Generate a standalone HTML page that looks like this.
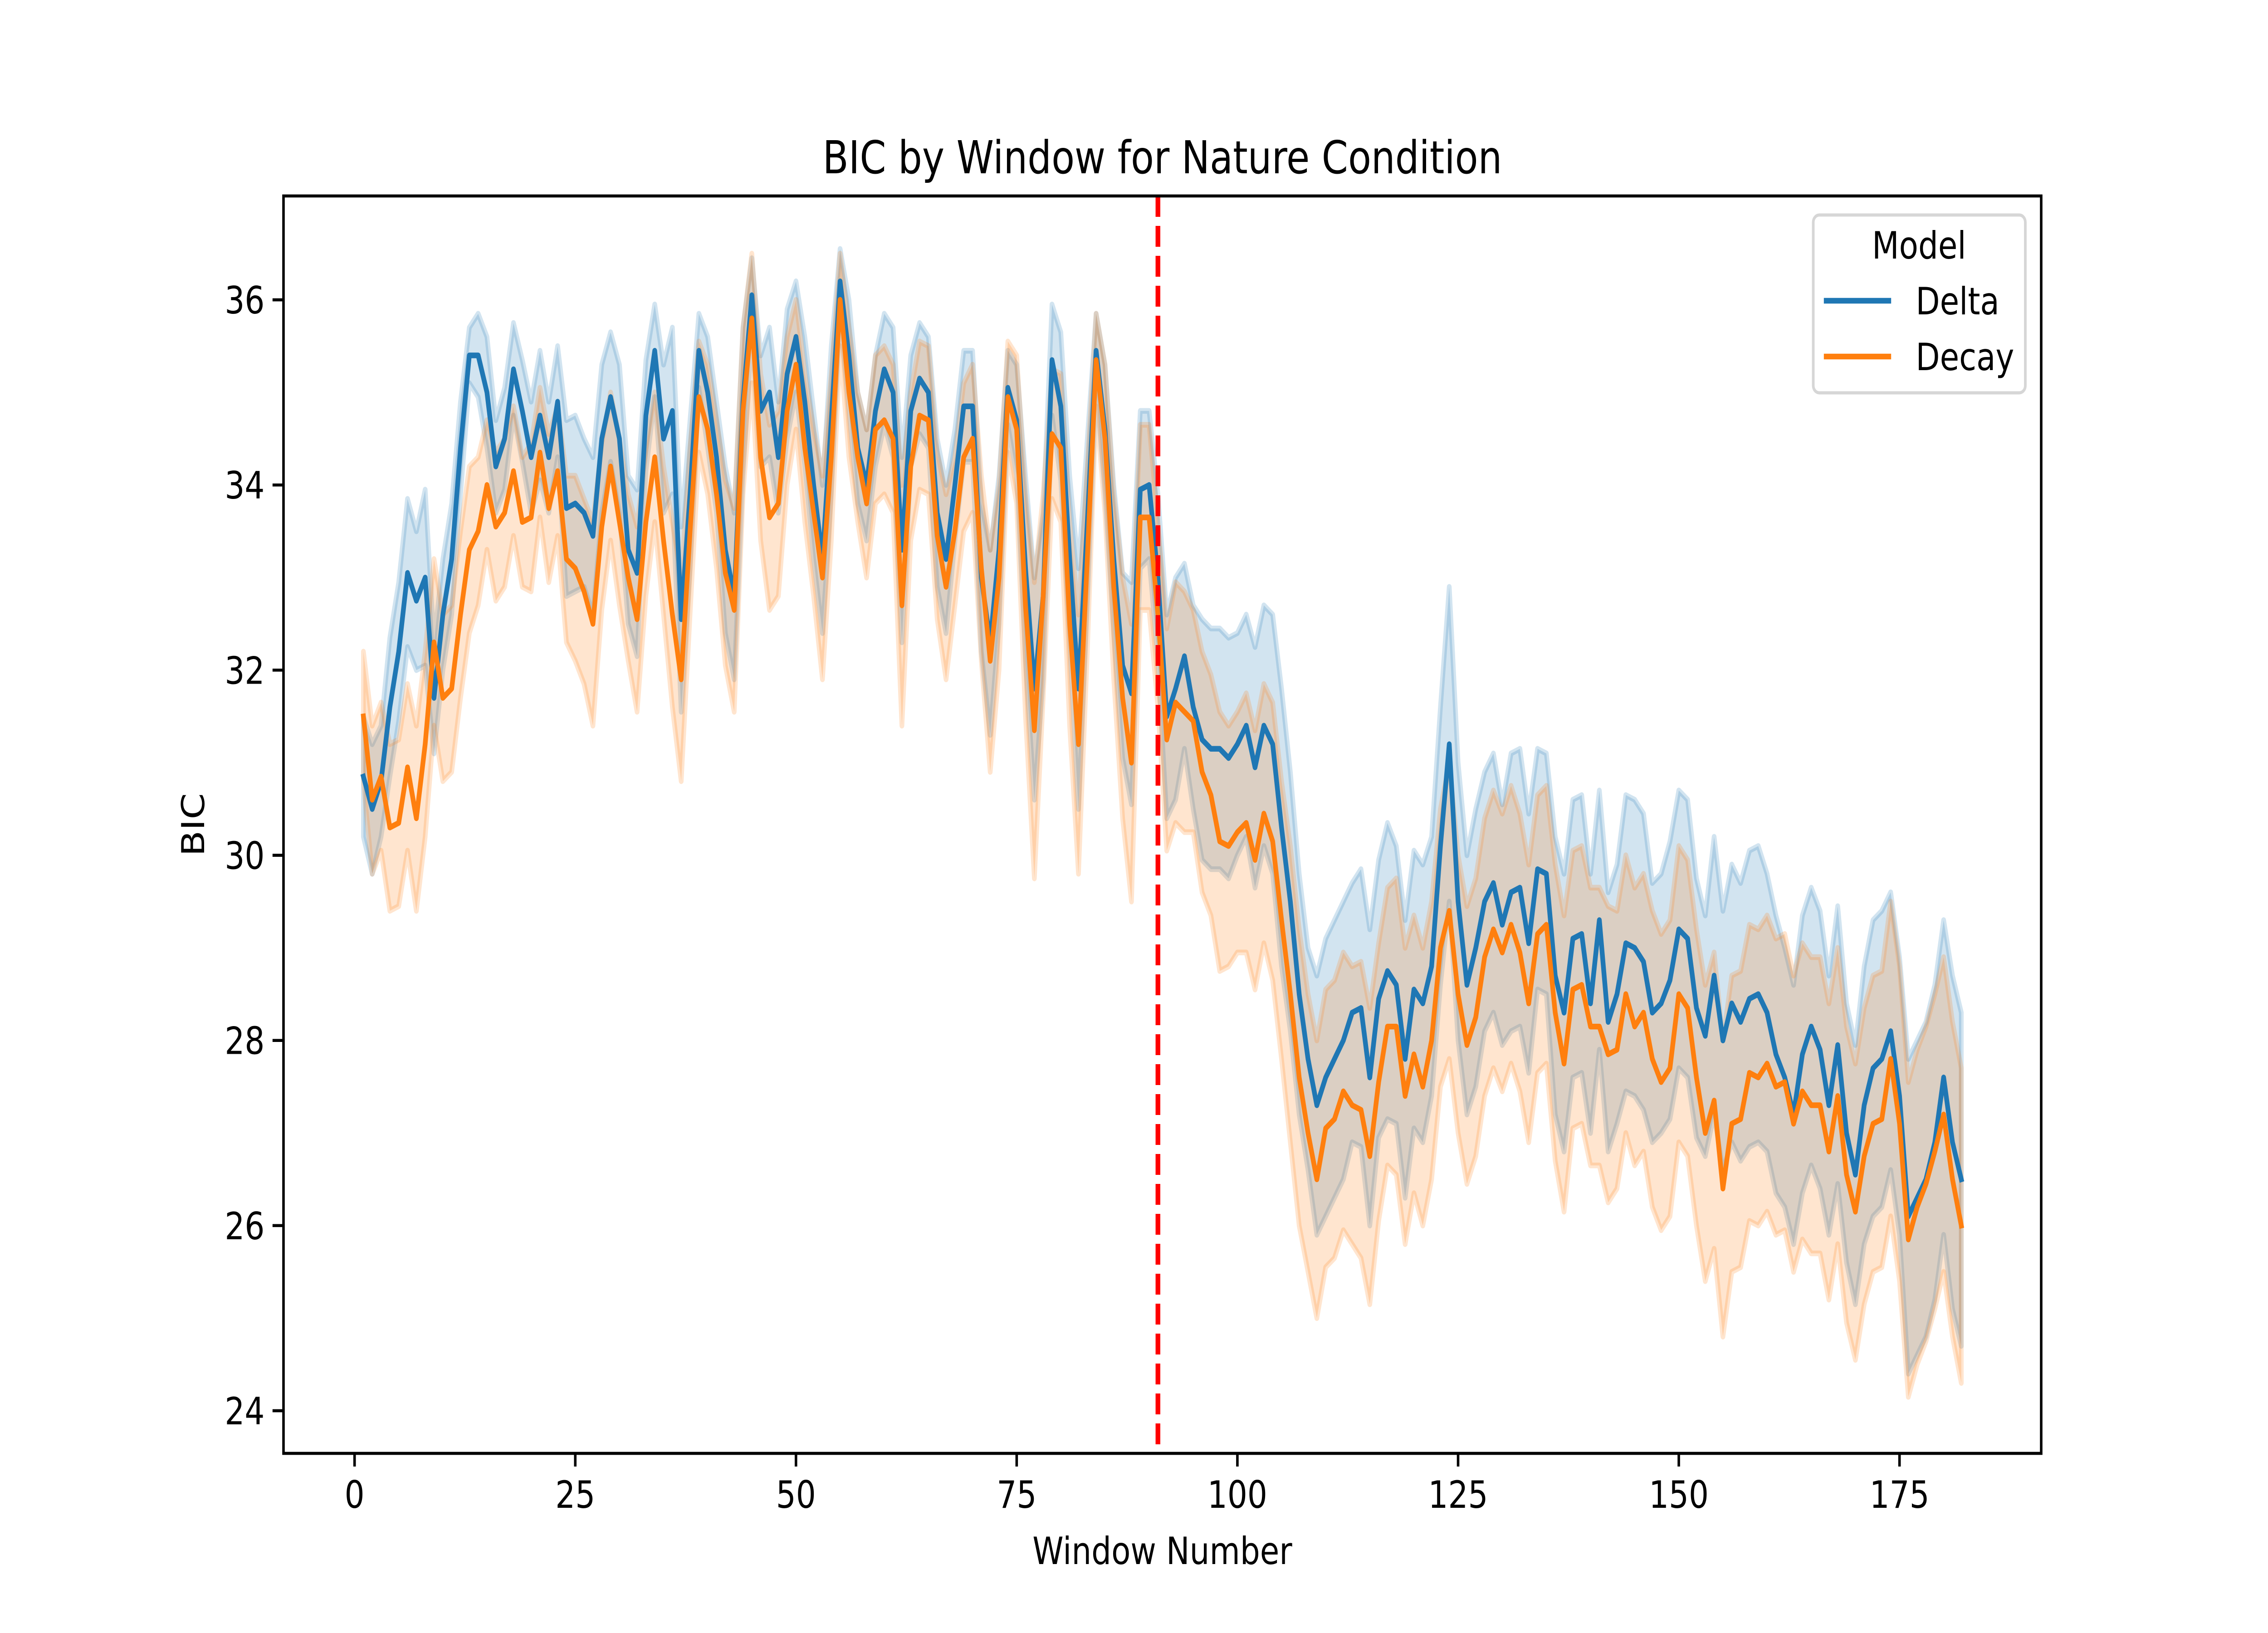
<!DOCTYPE html>
<html><head><meta charset="utf-8"><style>
html,body{margin:0;padding:0;background:#fff;width:100%;height:100%;overflow:hidden;}
svg{display:block;width:100vw;height:100vh;font-family:"DejaVu Sans","Liberation Sans",sans-serif;}
</style></head><body>
<svg id="chart" viewBox="0 0 6000 3600" preserveAspectRatio="none" xmlns="http://www.w3.org/2000/svg">
<rect x="0" y="0" width="6000" height="3600" fill="#fff"/>
<g id="bands"></g>
<g id="lines"></g>
<g id="axes"></g>
<text x="3075" y="382" font-size="100" text-anchor="middle">BIC by Window for Nature Condition</text>
<text x="3075" y="3448" font-size="83" text-anchor="middle">Window Number</text>
<text x="0" y="0" font-size="83" text-anchor="middle" transform="translate(540,1818) rotate(-90)">BIC</text>
<g>
<rect x="4797" y="474" width="561" height="392" rx="16" fill="#fff" fill-opacity="0.8" stroke="#d6d6d6" stroke-width="7"/>
<text x="5077" y="570" font-size="83" text-anchor="middle">Model</text>
<line x1="4825" y1="663" x2="5003" y2="663" stroke="#1f77b4" stroke-width="12.5"/>
<text x="5068" y="693" font-size="83">Delta</text>
<line x1="4825" y1="786" x2="5003" y2="786" stroke="#ff7f0e" stroke-width="12.5"/>
<text x="5068" y="816" font-size="83">Decay</text>
</g>
</svg>
<script>
const delta=[30.85,30.5,30.8,31.6,32.2,33.05,32.75,33.0,31.7,32.6,
33.2,34.4,35.4,35.4,35.0,34.2,34.5,35.25,34.8,34.3,
34.75,34.3,34.9,33.75,33.8,33.7,33.45,34.5,34.95,34.5,
33.3,33.05,34.75,35.45,34.5,34.8,32.55,33.9,35.45,35.0,
34.3,33.3,32.8,34.9,36.05,34.8,35.0,34.3,35.2,35.6,
34.9,34.0,33.2,34.7,36.2,35.4,34.4,34.0,34.8,35.25,
35.0,33.3,34.8,35.15,35.0,33.7,33.2,34.0,34.85,34.85,
33.0,32.3,33.3,35.05,34.7,33.1,31.8,32.8,35.35,34.85,
33.2,31.8,33.6,35.45,34.6,33.2,32.05,31.75,33.95,34.0,
33.0,31.5,31.8,32.15,31.6,31.25,31.15,31.15,31.05,31.2,
31.4,30.95,31.4,31.2,30.3,29.5,28.5,27.8,27.3,27.6,
27.8,28.0,28.3,28.35,27.6,28.45,28.75,28.6,27.8,28.55,
28.4,28.8,30.1,31.2,29.5,28.6,29.0,29.5,29.7,29.25,
29.6,29.65,29.05,29.85,29.8,28.7,28.3,29.1,29.15,28.4,
29.3,28.2,28.5,29.05,29.0,28.85,28.3,28.4,28.65,29.2,
29.1,28.35,28.05,28.7,28.0,28.4,28.2,28.45,28.5,28.3,
27.85,27.6,27.2,27.85,28.15,27.9,27.3,27.95,27.0,26.55,
27.3,27.7,27.8,28.1,27.4,26.1,26.3,26.5,26.9,27.6,
26.9,26.5];
const decay=[31.5,30.6,30.85,30.3,30.35,30.95,30.4,31.2,32.3,31.7,
31.8,32.6,33.3,33.5,34.0,33.55,33.7,34.15,33.6,33.65,
34.35,33.75,34.15,33.2,33.1,32.85,32.5,33.55,34.2,33.6,
33.0,32.55,33.6,34.3,33.4,32.6,31.9,33.5,34.95,34.6,
33.9,33.05,32.65,34.8,35.8,34.3,33.65,33.8,34.8,35.3,
34.4,33.7,33.0,34.3,36.0,35.0,34.3,33.8,34.6,34.7,
34.5,32.7,34.2,34.75,34.7,33.45,32.9,33.5,34.3,34.5,
33.1,32.1,33.0,34.95,34.6,32.7,31.35,32.8,34.55,34.4,
32.5,31.2,33.2,35.35,34.5,32.9,31.7,31.0,33.65,33.65,
32.6,31.25,31.65,31.55,31.45,30.9,30.65,30.15,30.1,30.25,
30.35,29.95,30.45,30.15,29.3,28.5,27.6,27.0,26.5,27.05,
27.15,27.45,27.3,27.25,26.75,27.55,28.15,28.15,27.4,27.85,
27.5,28.0,29.0,29.4,28.5,27.95,28.25,28.9,29.2,28.95,
29.25,28.95,28.4,29.15,29.25,28.3,27.75,28.55,28.6,28.15,
28.15,27.85,27.9,28.5,28.15,28.3,27.8,27.55,27.7,28.5,
28.35,27.6,27.0,27.35,26.4,27.1,27.15,27.65,27.6,27.75,
27.5,27.55,27.1,27.45,27.3,27.3,26.8,27.4,26.55,26.15,
26.75,27.1,27.15,27.8,27.1,25.85,26.2,26.45,26.8,27.2,
26.5,26.0];
const deltaHalf=[.65,.7,.6,.75,.75,.8,.75,.95,.6,.6,
.6,.5,.3,.45,.6,.5,.55,.5,.55,.6,
.7,.6,.6,.95,.95,.8,.85,.8,.7,.8,
.8,.9,.6,.5,.8,.9,1.0,.8,.4,.6,
.6,.9,.9,.8,.4,.6,.7,.6,.7,.6,
.7,.8,.8,.8,.35,.6,.6,.6,.6,.6,
.7,1.0,.6,.6,.6,.8,.8,.6,.6,.6,
.8,1.0,.8,.4,.6,1.0,1.2,.9,.6,.8,
.9,1.3,.9,.4,.7,.8,1.0,1.2,.85,.8,
.9,1.1,1.2,1.0,1.1,1.3,1.3,1.3,1.3,1.2,
1.2,1.3,1.3,1.4,1.5,1.4,1.3,1.2,1.4,1.5,
1.5,1.5,1.4,1.5,1.6,1.5,1.6,1.5,1.5,1.5,
1.5,1.4,1.5,1.7,1.5,1.4,1.5,1.4,1.4,1.3,
1.5,1.5,1.4,1.3,1.3,1.5,1.5,1.5,1.5,1.4,
1.4,1.4,1.4,1.6,1.6,1.6,1.4,1.4,1.5,1.5,
1.5,1.4,1.3,1.5,1.4,1.5,1.5,1.6,1.6,1.5,
1.5,1.4,1.4,1.5,1.5,1.5,1.4,1.5,1.4,1.4,
1.5,1.6,1.6,1.5,1.5,1.7,1.7,1.7,1.7,1.7,
1.8,1.8];
const decayHalf=[.7,.8,.8,.9,.9,.9,1.0,1.0,.9,.9,
.9,.9,.9,.8,.7,.8,.8,.7,.7,.8,
.7,.8,.7,.9,1.0,1.0,1.1,.9,.8,.9,
.9,1.0,.8,.7,.8,1.0,1.1,.9,.6,.7,
.8,1.0,1.1,.9,.7,.9,1.0,1.0,.8,.7,
.8,.9,1.1,.9,.5,.7,.7,.8,.8,.8,
.8,1.3,.8,.8,.8,.9,1.0,.8,.8,.8,
1.0,1.2,1.0,.6,.8,1.2,1.6,1.1,.7,.8,
1.1,1.4,1.0,.5,.8,1.0,1.3,1.5,1.0,1.0,
1.0,1.2,1.3,1.3,1.2,1.3,1.3,1.4,1.3,1.3,
1.4,1.4,1.4,1.5,1.5,1.6,1.6,1.5,1.5,1.5,
1.5,1.5,1.5,1.6,1.6,1.5,1.5,1.6,1.6,1.5,
1.5,1.5,1.5,1.6,1.5,1.5,1.5,1.5,1.5,1.5,
1.5,1.5,1.5,1.5,1.5,1.6,1.6,1.5,1.5,1.5,
1.5,1.6,1.5,1.5,1.5,1.5,1.6,1.6,1.6,1.6,
1.6,1.6,1.6,1.6,1.6,1.6,1.6,1.6,1.6,1.6,
1.6,1.6,1.6,1.6,1.6,1.6,1.6,1.6,1.6,1.6,
1.6,1.6,1.6,1.7,1.7,1.7,1.7,1.7,1.7,1.7,
1.7,1.7];
const xTicks=[0,25,50,75,100,125,150,175];
const yTicks=[24,26,28,30,32,34,36];
const changePoint=[91];

const NS='http://www.w3.org/2000/svg';
const L=750,R=5400,T=432,B=3204;
const XMIN=-8.05,XMAX=191.05;
function xs(v){return L+(v-XMIN)*(R-L)/(XMAX-XMIN);}
function ys(v){return 661+(36-v)*(3110-661)/12;}
function mk(tag,attrs,parent){const e=document.createElementNS(NS,tag);for(const k in attrs)e.setAttribute(k,attrs[k]);parent.appendChild(e);return e;}

const bands=document.getElementById('bands');
const lines=document.getElementById('lines');
const axes=document.getElementById('axes');

function drawSeries(vals,half,color,name){
  const up=vals.map((v,i)=>xs(i+1).toFixed(1)+','+ys(v+half[i]).toFixed(1));
  const lo=vals.map((v,i)=>xs(i+1).toFixed(1)+','+ys(v-half[i]).toFixed(1)).reverse();
  const b=mk('polygon',{points:up.concat(lo).join(' '),fill:color,'fill-opacity':0.2,stroke:color,'stroke-opacity':0.2,'stroke-width':12.5,'stroke-linejoin':'round'},bands);
  
  
  const pts=vals.map((v,i)=>xs(i+1).toFixed(1)+','+ys(v).toFixed(1)).join(' ');
  const l=mk('polyline',{points:pts,fill:'none',stroke:color,'stroke-width':12.5,'stroke-linejoin':'round','stroke-linecap':'square'},lines);
  
  
}
drawSeries(delta,deltaHalf,'#1f77b4','delta');
drawSeries(decay,decayHalf,'#ff7f0e','decay');

changePoint.forEach(c=>{
  const d=mk('line',{x1:xs(c),x2:xs(c),y1:T,y2:B,stroke:'#ff0000','stroke-width':12.5,'stroke-dasharray':'46 20'},lines);
  
  
});

const sp=mk('rect',{x:L,y:T,width:R-L,height:B-T,fill:'none',stroke:'#000','stroke-width':6.7},axes);



xTicks.forEach(t=>{
  const x=xs(t);
  const tk=mk('line',{x1:x,x2:x,y1:B,y2:B+29,stroke:'#000','stroke-width':6.7},axes);
  
  
  const tx=mk('text',{x:x,y:B+120,'font-size':83,'text-anchor':'middle'},axes);
  tx.textContent=String(t);
  
  
});
yTicks.forEach(t=>{
  const y=ys(t);
  const tk=mk('line',{x1:L-29,x2:L,y1:y,y2:y,stroke:'#000','stroke-width':6.7},axes);
  
  
  const tx=mk('text',{x:L-50,y:y+30,'font-size':83,'text-anchor':'end'},axes);
  tx.textContent=String(t);
  
  
});
</script>
</body></html>
